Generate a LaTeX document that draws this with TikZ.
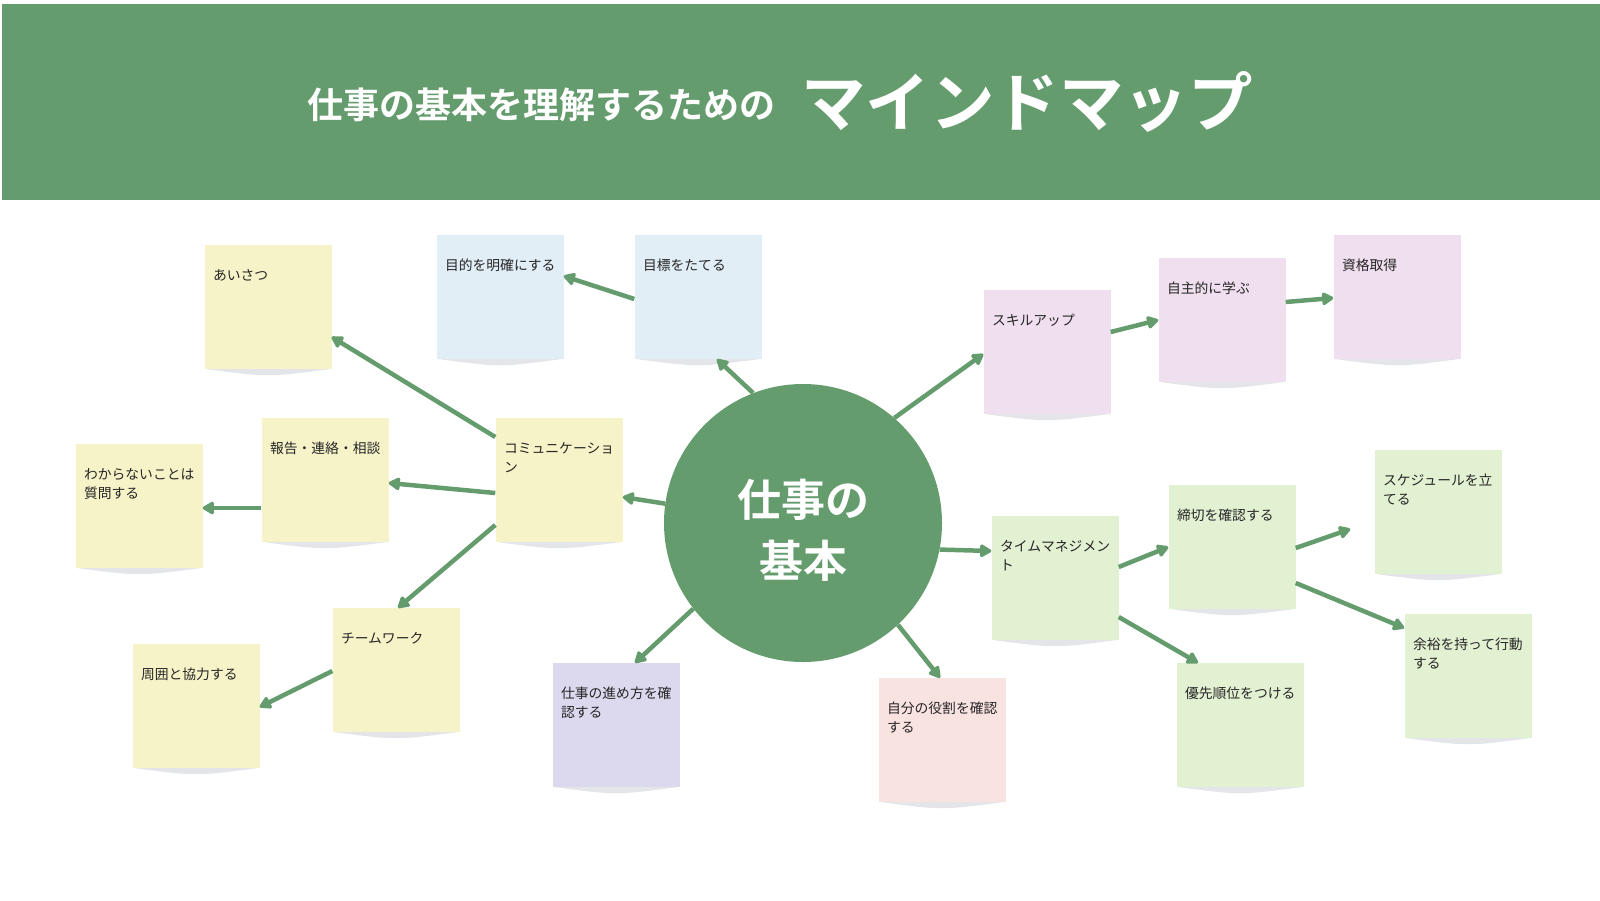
\documentclass[tikz,border=0pt]{standalone}
\usepackage{fontspec}
\setmainfont{Noto Sans CJK JP}[BoldFont={Noto Sans CJK JP Bold}]
\usepackage{tikz}
\usetikzlibrary{arrows.meta,calc}
\definecolor{mmgreen}{HTML}{659C6E}
\definecolor{noteyel}{HTML}{F7F3C8}
\definecolor{noteblu}{HTML}{E1EEF5}
\definecolor{notelil}{HTML}{F0DFEE}
\definecolor{notepur}{HTML}{DCD8EE}
\definecolor{notepnk}{HTML}{F9E3E1}
\definecolor{notegrn}{HTML}{E3F1D3}
\definecolor{shadowgray}{HTML}{E3E5E9}

\begin{document}
\begin{tikzpicture}[x=1pt,y=-1pt,
note/.style={%
text width=110pt,
inner xsep=8.5pt,
inner ysep=0pt,
text height=35.5pt,
text depth=88.5pt,
align=left,
text=black!85,
font=\fontsize{13.8}{19.4}\selectfont
},
yel/.style={note,fill=noteyel},
blu/.style={note,fill=noteblu},
lil/.style={note,fill=notelil},
pur/.style={note,fill=notepur},
pnk/.style={note,fill=notepnk},
grn/.style={note,fill=notegrn},
arr/.style={%
draw=mmgreen,
line width=4.5pt,
-{Triangle[length=13pt,width=14pt,round]}
}
]
\useasboundingbox(0,0)rectangle(1600,900);
%% Header
\fill[mmgreen](2,4)rectangle(1600,200);
\node[anchor=base west,inner sep=0pt,text=white,font=\bfseries\fontsize{36}{36}\selectfont]at(307,118)(sub){仕事の基本を理解するための};
\node[anchor=base west,inner sep=0pt,text=white,font=\bfseries\fontsize{64.5}{64.5}\selectfont]at(801,126)(ttl){マインドマップ};
%% Core
\node[circle,fill=mmgreen,minimum size=278pt,inner sep=0pt]at(803,523)(core){};
\node[align=center,text=white,font=\bfseries\fontsize{44}{61}\selectfont]at(803,530)(coretxt){仕事の\\基本};
%% Communication
\node[yel]at(559,480)(comm){コミュニケーショ\\ン};
\node[yel]at(268,307)(aisatsu){あいさつ};
\node[yel]at(325,480)(hou){報告・連絡・相談};
\node[yel]at(139,506)(shitsumon){わからないことは\\質問する};
\node[yel]at(396,670)(team){チームワーク};
\node[yel]at(196,706)(kyoryoku){周囲と協力する};
%% Goals
\node[blu]at(698,297)(mokuhyo){目標をたてる};
\node[blu]at(500,297)(mokuteki){目的を明確にする};
%% Skills
\node[lil]at(1047,352)(skill){スキルアップ};
\node[lil]at(1222,320)(jishu){自主的に学ぶ};
\node[lil]at(1397,297)(shikaku){資格取得};
%% Time management
\node[grn]at(1055,578)(time){タイムマネジメン\\ト};
\node[grn]at(1232,547)(shime){締切を確認する};
\node[grn]at(1438,512)(sched){スケジュールを立\\てる};
\node[grn]at(1468,676)(yoyu){余裕を持って行動\\する};
\node[grn]at(1240,725)(yusen){優先順位をつける};
%% Roles
\node[pur]at(616,725)(susume){仕事の進め方を確\\認する};
\node[pnk]at(942,740)(yakuwari){自分の役割を確認\\する};
%% Shadows
\foreach \n in {comm,aisatsu,hou,shitsumon,team,kyoryoku,mokuhyo,mokuteki,skill,jishu,shikaku,time,shime,sched,yoyu,yusen,susume,yakuwari}{
\fill[shadowgray]([xshift=3pt]\n.south west)..controls([yshift=-8pt]\n.south)..([xshift=-3pt]\n.south east)--cycle;
}
%% Arrows
\draw[arr](core.172)--($(comm.east)+(0,17)$);
\draw[arr]($(comm.west)+(0,-43)$)--($(aisatsu.east)+(0,30)$);
\draw[arr]($(comm.west)+(0,13)$)--($(hou.east)+(0,3)$);
\draw[arr]($(hou.west)+(0,28)$)--($(shitsumon.east)+(0,2)$);
\draw[arr]($(comm.west)+(0,45)$)--($(team.north)+(2,0)$);
\draw[arr]($(team.west)+(0,1)$)--($(kyoryoku.east)+(0,1)$);
\draw[arr](core.111)--($(mokuhyo.south)+(19,0)$);
\draw[arr]($(mokuhyo.west)+(0,2)$)--($(mokuteki.east)+(0,-21)$);
\draw[arr](core.49)--($(skill.west)+(0,2)$);
\draw[arr]($(skill.east)+(0,-20)$)--(jishu.west);
\draw[arr]($(jishu.east)+(0,-18)$)--($(shikaku.west)+(0,1)$);
\draw[arr](core.-11)--($(time.west)+(0,-27)$);
\draw[arr]($(time.east)+(0,-11)$)--(shime.west);
\draw[arr]($(time.east)+(0,39)$)--($(yusen.north)+(-42,0)$);
\draw[arr]($(shime.east)+(0,1)$)--($(sched.west)+(-24,17)$);
\draw[arr]($(shime.east)+(0,36)$)--($(yoyu.west)+(0,-48)$);
\draw[arr](core.-47)--($(yakuwari.north)+(-2,0)$);
\draw[arr](core.-142)--($(susume.north)+(19,0)$);
\end{tikzpicture}
\end{document}
